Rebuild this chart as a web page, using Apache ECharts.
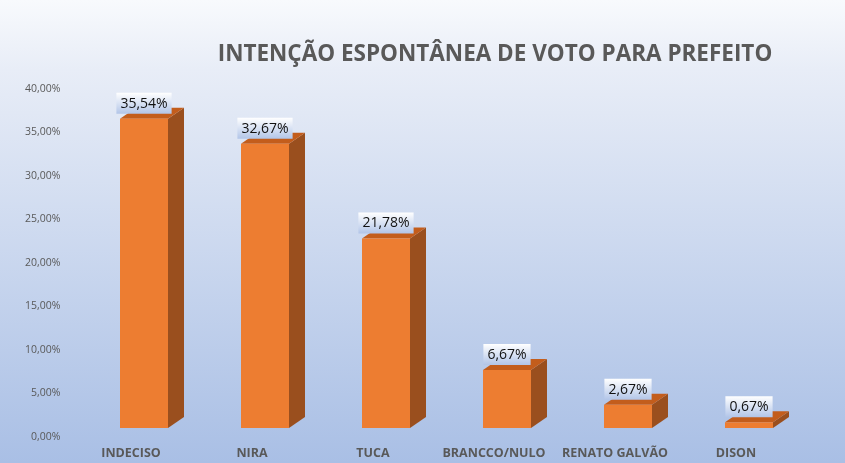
<!DOCTYPE html>
<html>
<head>
<meta charset="utf-8">
<script src="https://cdn.jsdelivr.net/npm/echarts@6/dist/echarts.min.js"></script>
<style>html,body{margin:0;padding:0;}#c{width:845px;height:463px;}</style>
</head>
<body>
<div id="c"></div>
<script>
const categories = ['INDECISO', 'NIRA', 'TUCA', 'BRANCCO/NULO', 'RENATO GALVÃO', 'DISON'];
const values = [35.54, 32.67, 21.78, 6.67, 2.67, 0.67];
const yTicks = [0, 5, 10, 15, 20, 25, 30, 35, 40];

const fmt = v => v.toFixed(2).replace('.', ',') + '%';
const chart = echarts.init(document.getElementById('c'));

const LABEL_FONT = '14px "Open Sans", sans-serif';
const measureCtx = document.createElement('canvas').getContext('2d');
measureCtx.font = LABEL_FONT;
const textW = t => measureCtx.measureText(t).width;

const W = 24, DX = 16, DY = 11, LIFT = 9, SHIFT = 13;

function renderItem(params, api) {
  const idx = api.value(0);
  const val = api.value(1);
  const base = api.coord([idx, 0]);
  const top = api.coord([idx, val]);
  const cx = base[0] + SHIFT;
  const y0 = base[1] - LIFT;
  const y1 = top[1] - LIFT;
  const label = fmt(val);
  const bw = textW(label) + 8, bh = 21;
  const by = y1 - 5 - bh;
  return {
    type: 'group',
    children: [
      { type: 'polygon', shape: { points: [[cx + W, y1], [cx + W + DX, y1 - DY], [cx + W + DX, y0 - DY], [cx + W, y0]] },
        style: { fill: '#9a4f1e' } },
      { type: 'polygon', shape: { points: [[cx - W, y1], [cx + W, y1], [cx + W + DX, y1 - DY], [cx - W + DX, y1 - DY]] },
        style: { fill: '#c35d1c' } },
      { type: 'rect', shape: { x: cx - W, y: y1, width: 2 * W, height: y0 - y1 },
        style: { fill: '#ed7d31' } },
      { type: 'rect', shape: { x: cx - bw / 2, y: by, width: bw, height: bh },
        style: { fill: new echarts.graphic.LinearGradient(0, 0, 0, 1, [
            { offset: 0, color: '#ffffff' }, { offset: 1, color: '#b2c5e8' }
          ]) } },
      { type: 'text', x: cx, y: by + bh / 2 + 0.5,
        style: {
          text: label, fill: '#111', font: LABEL_FONT,
          align: 'center', verticalAlign: 'middle'
        } }
    ]
  };
}

chart.setOption({
  backgroundColor: new echarts.graphic.LinearGradient(0, 0, 0, 1, [
    { offset: 0, color: '#f8fafd' },
    { offset: 0.15, color: '#e8edf7' },
    { offset: 1, color: '#a9bfe5' }
  ]),
  animation: false,
  title: {
    text: 'INTENÇÃO ESPONTÂNEA DE VOTO PARA PREFEITO',
    left: 490, top: 38, textAlign: 'center',
    textStyle: { fontSize: 22.5, fontWeight: 'bold', color: '#595959', fontFamily: '"Open Sans", sans-serif' }
  },
  grid: { left: 70.5, right: 48.5, top: 89, bottom: 26 },
  xAxis: {
    type: 'category', data: categories,
    axisLine: { show: false }, axisTick: { show: false },
    axisLabel: { margin: 10, fontSize: 12.5, fontWeight: 'bold', color: '#595959', fontFamily: '"Open Sans", sans-serif', interval: 0 }
  },
  yAxis: {
    type: 'value', min: 0, max: 40, interval: 5,
    axisLine: { show: false }, axisTick: { show: false }, splitLine: { show: false },
    axisLabel: { margin: 10, fontSize: 10.5, color: '#595959', fontFamily: '"Open Sans", sans-serif',
      formatter: v => fmt(v) }
  },
  series: [{
    type: 'custom',
    renderItem: renderItem,
    data: values.map((v, i) => [i, v]),
    encode: { x: 0, y: 1 }
  }]
});
</script>
</body>
</html>
